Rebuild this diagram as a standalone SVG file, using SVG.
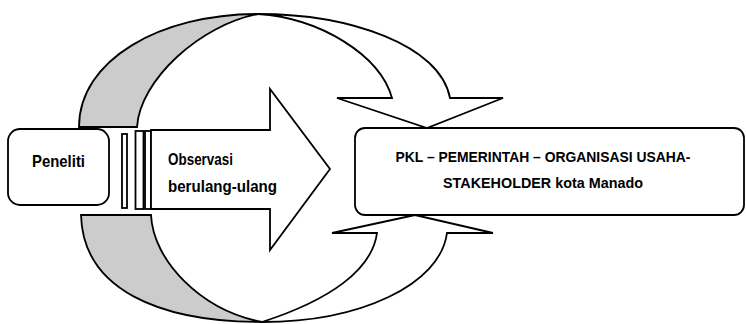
<svg xmlns="http://www.w3.org/2000/svg" width="746" height="324" viewBox="0 0 746 324">
<style>
.fg{fill:#ffffff;stroke:#000000;stroke-width:1.8;stroke-linejoin:miter}
.bk{fill:#cccccc;stroke:#000000;stroke-width:1.8;stroke-linejoin:miter}
.lbl{font-family:"Liberation Sans",Arial,sans-serif;font-weight:bold;fill:#000000}
</style>
<rect width="746" height="324" fill="#ffffff"/>
<g id="connectors">
  <g id="curved-arrow-top">
    <path class="bk" d="M79,127 C79,60 160,14 258,14 C200,25 140,80 137,127 Z"/>
    <path class="fg" d="M258,14 C350,14 440,45 450,98 L503,98 L427,128 L337,98 L392,98 C380,55 320,18 258,14 Z"/>
  </g>
  <g id="curved-arrow-bottom">
    <path class="bk" d="M81,215 C83,290 160,322 262,322 C200,310 153,260 151,215 Z"/>
    <path class="fg" d="M262,322 C360,322 440,285 447,233 L493,233 L415,215 L332,233 L377,233 C372,270 330,300 262,322 Z"/>
  </g>
</g>
<g id="observasi">
  <rect class="fg" x="122" y="134" width="5" height="74"/>
  <rect class="fg" x="135.5" y="131" width="8" height="78"/>
  <rect class="fg" x="145" y="131" width="6" height="78"/>
  <path class="fg" d="M151,130 H270 V89 L330,169 L270,250 V209 H151 Z"/>
  <text class="lbl" x="168" y="165" font-size="17" textLength="65" lengthAdjust="spacingAndGlyphs">Observasi</text>
  <text class="lbl" x="168" y="192" font-size="17" textLength="109" lengthAdjust="spacingAndGlyphs">berulang-ulang</text>
</g>
<g id="peneliti">
  <rect class="fg" x="8" y="129" width="101" height="76" rx="12" ry="12"/>
  <text class="lbl" x="58.5" y="167" font-size="17" text-anchor="middle" textLength="53" lengthAdjust="spacingAndGlyphs">Peneliti</text>
</g>
<g id="stakeholder">
  <rect class="fg" x="355" y="128" width="389" height="87" rx="10" ry="10"/>
  <text class="lbl" x="543" y="162" font-size="15" text-anchor="middle" textLength="295" lengthAdjust="spacingAndGlyphs">PKL – PEMERINTAH – ORGANISASI USAHA-</text>
  <text class="lbl" x="543" y="188" font-size="15" text-anchor="middle" textLength="200" lengthAdjust="spacingAndGlyphs">STAKEHOLDER kota Manado</text>
</g>
</svg>
